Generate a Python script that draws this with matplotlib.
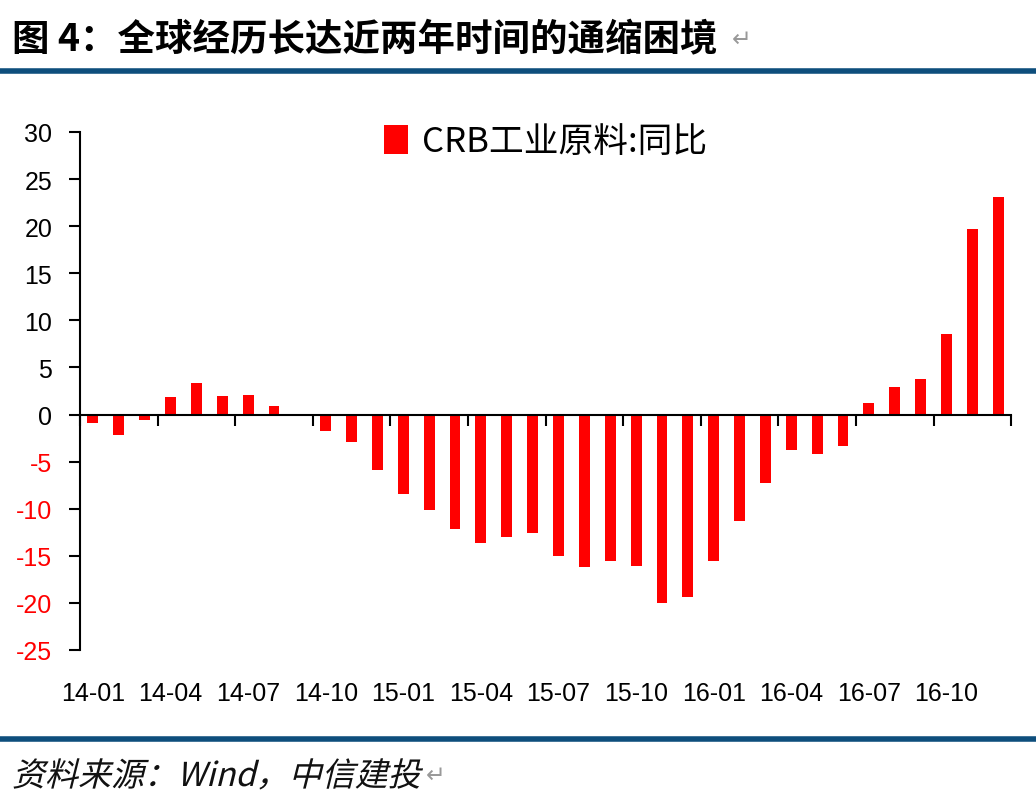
import matplotlib
matplotlib.use('Agg')
import matplotlib.pyplot as plt
from matplotlib import font_manager
from matplotlib.textpath import TextPath
from matplotlib.patches import PathPatch
from matplotlib.transforms import Affine2D
import numpy as np

# CRB工业原料 同比, 14-01 .. 16-12
months = ['%02d-%02d' % (y, m) for y in (14, 15, 16) for m in range(1, 13)]
crb_yoy = [-0.9, -2.2, -0.6, 1.9, 3.4, 2.0, 2.1, 0.9, -0.1, -1.7, -2.9, -5.9,
           -8.4, -10.1, -12.1, -13.6, -13.0, -12.6, -15.0, -16.2, -15.5, -16.1, -20.0, -19.4,
           -15.5, -11.3, -7.3, -3.8, -4.2, -3.3, 1.2, 2.9, 3.8, 8.5, 19.7, 23.1]
yticks = [30, 25, 20, 15, 10, 5, 0, -5, -10, -15, -20, -25]

names = {f.name for f in font_manager.fontManager.ttflist}
narrow = 'Liberation Sans Narrow' if 'Liberation Sans Narrow' in names else 'Liberation Sans'
cjk = ['Noto Sans CJK SC', 'DejaVu Sans']
plt.rcParams['font.family'] = [narrow, 'Noto Sans CJK SC', 'DejaVu Sans']

fig = plt.figure(figsize=(10.36, 8.04), dpi=100)
blue = '#0E4E7C'

# title + rules
fig.text(0.012, 0.951, '图 4：全球经历长达近两年时间的通缩困境', family=cjk,
         fontsize=27, fontweight='bold', va='center', ha='left')
fig.text(0.706, 0.951, '↵', family=['DejaVu Sans'], fontsize=17, color='#999999',
         va='center', ha='left')
fig.add_artist(plt.Line2D([0, 1], [0.910, 0.910], color=blue, lw=4))
fig.add_artist(plt.Line2D([0, 1], [0.079, 0.079], color=blue, lw=4))

# italic source line (CJK font has no italic -> skew the glyph outlines)
src = TextPath((0, 0), '资料来源：Wind，中信建投',
               prop=font_manager.FontProperties(family=cjk), size=33)
src_tr = Affine2D().skew_deg(14, 0).translate(12, 17)
fig.add_artist(PathPatch(src_tr.transform_path(src), facecolor='#111111',
                         edgecolor='none', transform=None))
fig.text(0.411, 0.035, '↵', family=['DejaVu Sans'], fontsize=17, color='#999999',
         va='center', ha='left')

ax = fig.add_axes([0.0772, 0.1903, 0.8988, 0.6443])
x = np.arange(len(crb_yoy))
ax.bar(x, crb_yoy, width=0.42, color='#FF0000', label='CRB工业原料:同比', zorder=2)

ax.set_xlim(-0.5, len(crb_yoy) - 0.5)
ax.set_ylim(-25, 30)
ax.set_yticks(yticks)
ax.set_yticklabels([str(v) for v in yticks])
for lab, v in zip(ax.get_yticklabels(), yticks):
    lab.set_color('#FF0000' if v < 0 else 'black')
    lab.set_fontsize(18)
ax.tick_params(axis='y', direction='out', length=8, width=1.5, pad=12)

for s in ('top', 'right'):
    ax.spines[s].set_visible(False)
ax.spines['left'].set_linewidth(1.5)
ax.spines['bottom'].set_position(('data', 0))
ax.spines['bottom'].set_linewidth(1.5)
ax.set_xticks(np.arange(-0.5, len(crb_yoy), 3))
ax.tick_params(axis='x', direction='out', length=8, width=1.5, labelbottom=False)

sec = ax.secondary_xaxis('bottom')
sec.set_xticks(x[::3])
sec.set_xticklabels(months[::3], fontsize=18)
sec.tick_params(length=0, pad=22)
sec.spines['bottom'].set_visible(False)

leg = ax.legend(loc='upper center', bbox_to_anchor=(0.5, 1.075), frameon=False,
                prop={'family': cjk, 'size': 25}, handlelength=0.7, handleheight=0.9,
                handletextpad=0.4)

fig.savefig('out.png', dpi=100)
